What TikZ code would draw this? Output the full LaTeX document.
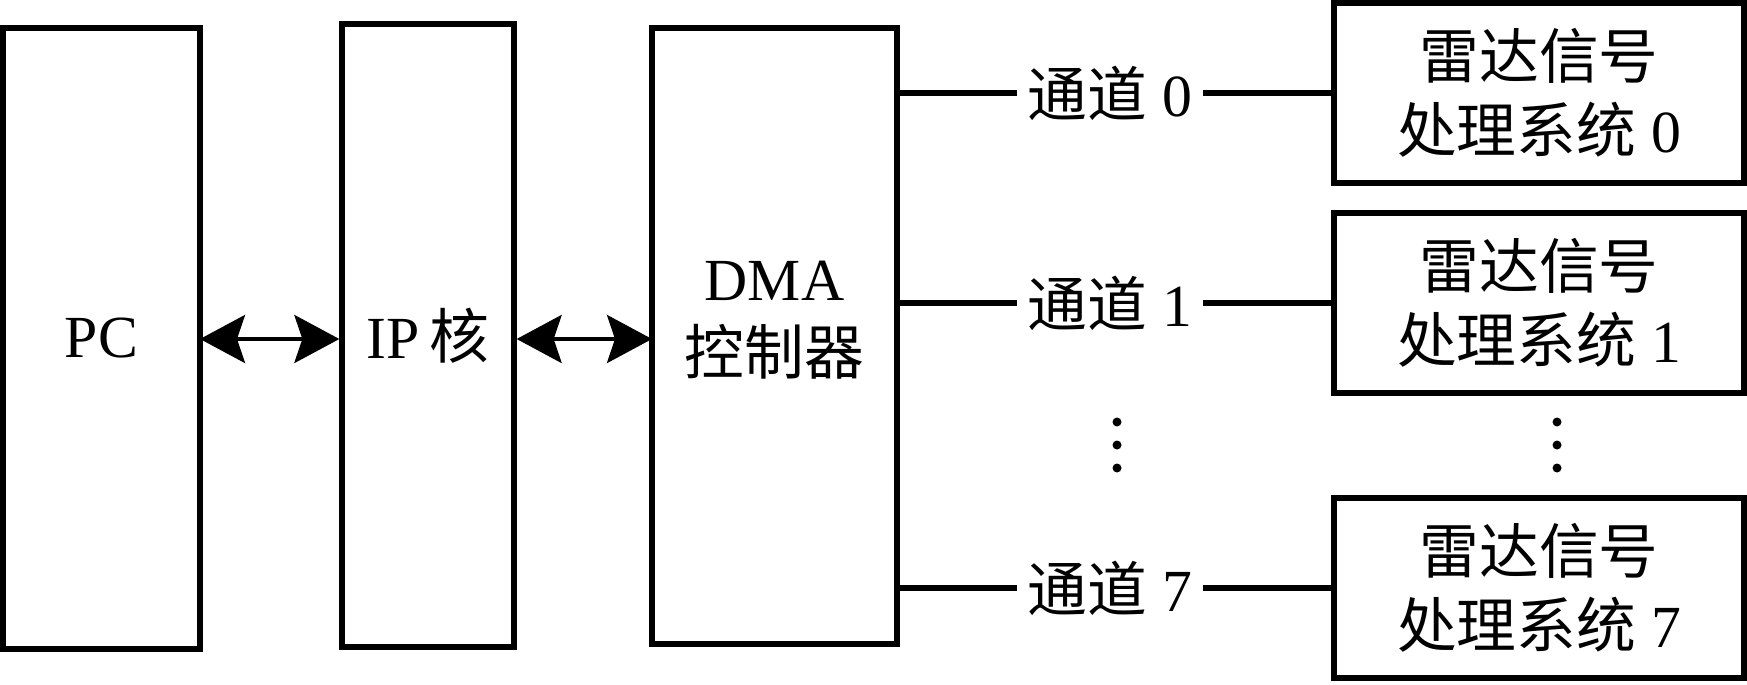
\documentclass[tikz,border=0pt]{standalone}
\usepackage{fontspec}
\setmainfont{Liberation Serif}
\newfontfamily\cjk{Noto Sans CJK SC}
\usetikzlibrary{arrows.meta}

\begin{document}
\begin{tikzpicture}[
    blk/.style={draw, line width=1.5pt, inner sep=0pt},
    lbl/.style={font=\fontsize{17pt}{21pt}\selectfont, align=center},
    wire/.style={line width=1.7pt},
    dbl/.style={line width=1.1pt, {Stealth[length=0.45cm, width=0.48cm, inset=0.08cm]}-{Stealth[length=0.45cm, width=0.48cm, inset=0.08cm]}}]
    \useasboundingbox (0,0) rectangle (17.47,-6.84);

    \node[blk, minimum width=1.97cm, minimum height=6.21cm] (pc) at (1.015,-3.385) {};
    \node[blk, minimum width=1.72cm, minimum height=6.23cm] (ip) at (4.28,-3.355) {};
    \node[blk, minimum width=2.45cm, minimum height=6.16cm] (dma) at (7.745,-3.36) {};
    \node[lbl] (pctxt) at (pc.center) {PC};
    \node[lbl] (iptxt) at (ip.center) {IP\,{\cjk 核}};
    \node[lbl] (dmatxt) at (7.745,-3.20) {DMA\\{\cjk 控制器}};

    \coordinate (a1) at (2.0,-3.39); \coordinate (a2) at (6.52,-3.39);
    \draw[dbl] (a1) -- (a1 -| ip.west);
    \draw[dbl] (ip.east |- a2) -- (a2);

    \foreach \n/\y in {0/0.93, 1/3.03, 7/5.88} {
        \node[blk, lbl, minimum width=4.10cm, minimum height=1.80cm] (rb\n) at (15.39,-\y)
            {{\cjk 雷达信号}\\{\cjk 处理系统} \n};
        \node[lbl, inner xsep=3pt] (ch\n) at (11.1,-\y) {{\cjk 通道} \n};
        \draw[wire] (dma.east |- ch\n) -- (ch\n.west);
        \draw[wire] (ch\n.east) -- (rb\n.west);
    }

    \foreach \y in {4.22,4.45,4.68} {
        \fill (11.17,-\y) circle (0.045); \fill (15.57,-\y) circle (0.045);
    }
\end{tikzpicture}
\end{document}
